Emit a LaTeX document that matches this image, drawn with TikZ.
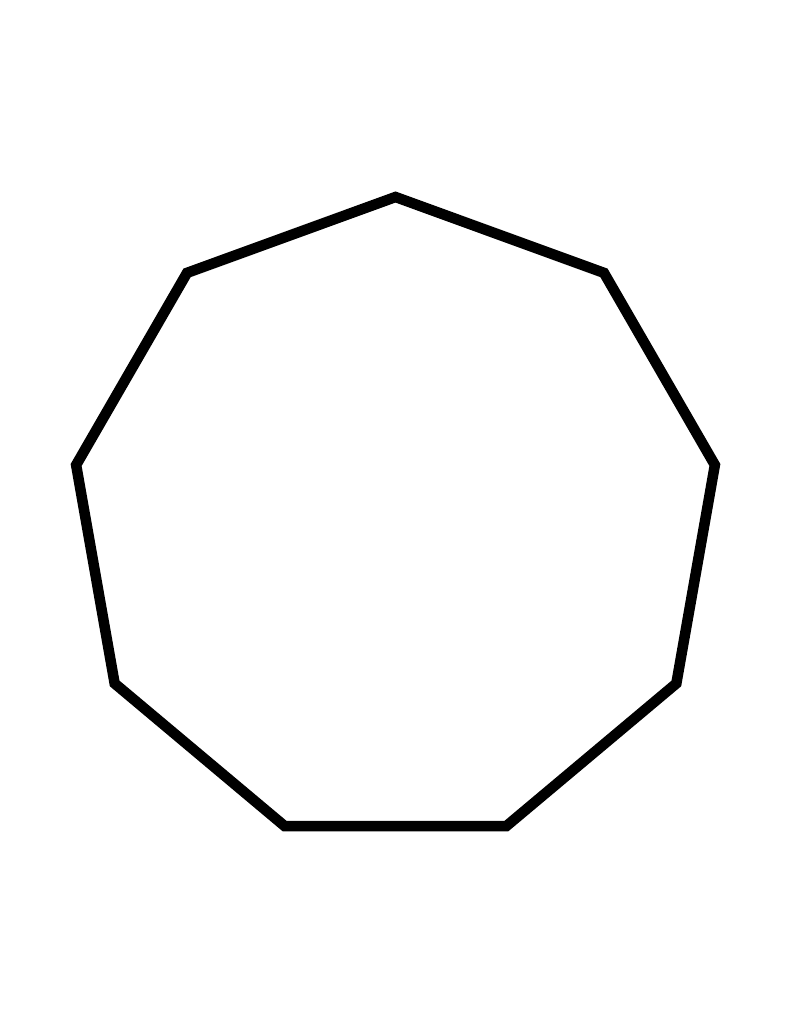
\documentclass[tikz,border=0pt]{standalone}
\begin{document}
\begin{tikzpicture}[x=1pt,y=-1pt,outline/.style={draw=black,line width=10.5pt,line join=miter}]
\useasboundingbox (0,0) rectangle (791,1024);
\foreach \i in {0,...,8}{
  \coordinate (v\i) at ({395.5+324.3*cos(90+40*\i)},{521.3-324.3*sin(90+40*\i)});
}
\draw[outline] (v0) -- (v1) -- (v2) -- (v3) -- (v4) -- (v5) -- (v6) -- (v7) -- (v8) -- cycle;
\end{tikzpicture}
\end{document}
